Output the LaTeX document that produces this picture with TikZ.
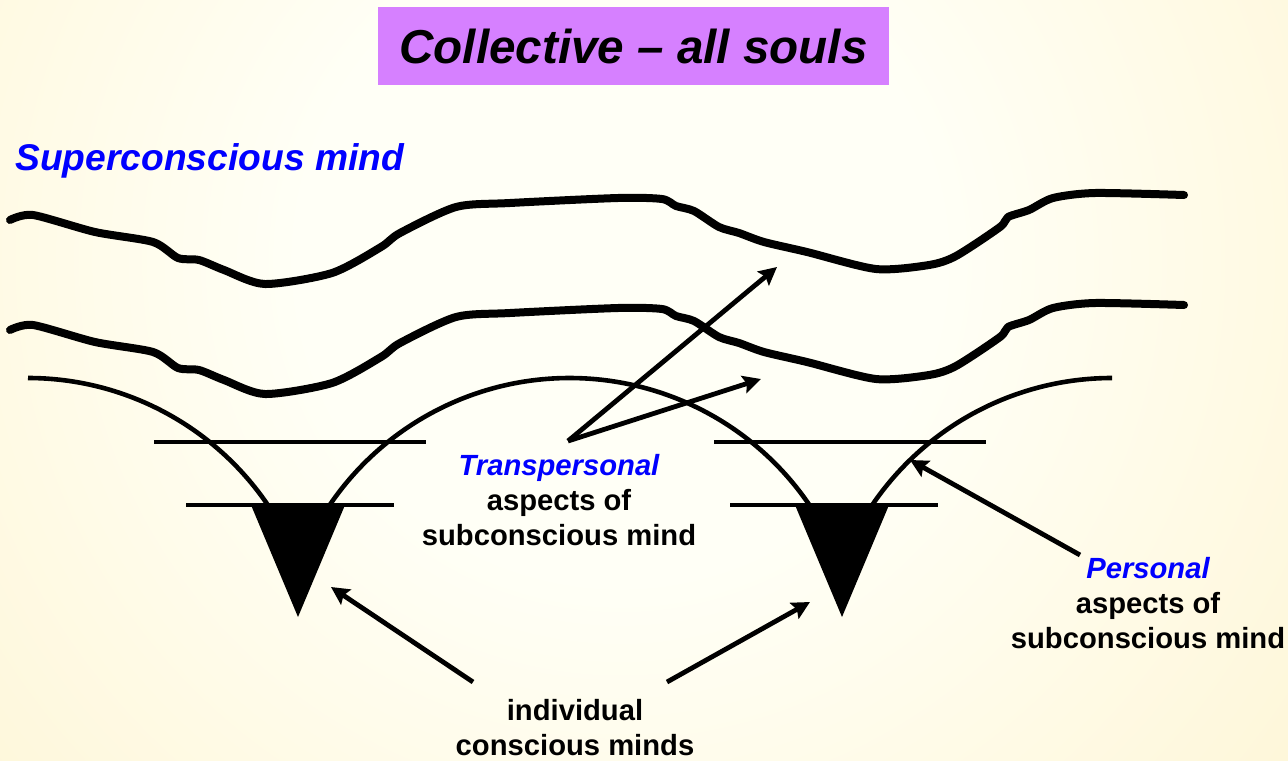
\documentclass[tikz,border=0pt]{standalone}
\usepackage{fontspec}
\setmainfont{Liberation Sans}
\usepackage{xcolor}
\usepackage{tikz}
\usetikzlibrary{arrows.meta}

\definecolor{soulviolet}{RGB}{214,128,255}
\definecolor{mindblue}{RGB}{0,0,255}
\definecolor{bgpale}{RGB}{255,255,246}
\definecolor{bgmid}{RGB}{254,243,204}
\definecolor{bgdeep}{RGB}{251,225,138}
\pgfdeclareradialshading{glow}{\pgfpoint{0bp}{0bp}}{color(0bp)=(bgpale); color(8bp)=(bgpale); color(27bp)=(bgmid); color(44bp)=(bgdeep); color(50bp)=(bgdeep)}

\tikzset{
    wave/.style={line width=4pt,line join=round,line cap=round},
    rim/.style={line width=2.3pt},
    shelf/.style={line width=2.3pt},
    pointer/.style={line width=2.4pt,-{Stealth[length=9pt,width=9pt,inset=1.5pt]}},
    mindtext/.style={font=\bfseries\fontsize{14.6}{17.5}\selectfont,align=center,inner sep=0pt}
}

\begin{document}
\begin{tikzpicture}[x=0.5pt,y=-0.5pt]
        \useasboundingbox (0,0) rectangle (1288,760);
        \begin{scope}
            \clip (0,0) rectangle (1288,760);
            \shade[shading=glow] (-380,-740) rectangle (1620,1260);
        \end{scope}

        % title and top label
        \node[fill=soulviolet,minimum width=255.5pt,minimum height=39pt,
              font=\bfseries\itshape\fontsize{23.8}{28}\selectfont] (title) at (633.5,46) {Collective – all souls};
        \node[anchor=base west,text=mindblue,inner sep=0pt,
              font=\bfseries\itshape\fontsize{18.6}{22}\selectfont] (supermind) at (15,170) {Superconscious mind};

        % the two wavy layers
        \foreach \dy in {0,110}
            \draw[wave,shift={(0,\dy)}] plot[smooth,tension=0.45] coordinates {
                (10,220) (33,215) (95,232) (153,242) (178,258) (199,260) (224,270) (265,284)
                (332,273) (381,247) (400,233) (456,207) (510,203) (618,198) (662,199) (676,206)
                (694,211) (719,227) (739,233) (764,242) (807,252) (876,269) (929,265)
                (956,256) (1000,227) (1008,217) (1029,210) (1053,198) (1095,193) (1184,195)};

        % arches into the two funnels
        \draw[rim] (28,378) arc (-90:-34.2:290);
        \draw[rim] (329.7,505) arc (-145.8:-34.2:290);
        \draw[rim] (872.2,505) arc (-145.8:-90:290);

        \draw[shelf] (154,442) -- (426,442);
        \draw[shelf] (186,505) -- (394,505);
        \draw[shelf] (714,442) -- (986,442);
        \draw[shelf] (730,505) -- (938,505);

        \foreach \cx in {298,842}
            \fill (\cx-47,505) -- (\cx+47,505) -- (\cx,617) -- cycle;

        % labels
        \node[mindtext] (transpersonal) at (559,500) {{\color{mindblue}\itshape Transpersonal}\\aspects of\\subconscious mind};
        \node[mindtext] (personal) at (1148,603) {{\color{mindblue}\itshape Personal}\\aspects of\\subconscious mind};
        \node[mindtext] (individual) at (575,728) {individual\\conscious minds};

        % arrows
        \coordinate (transfork) at (568,441);
        \coordinate (uppertip) at (777,267);
        \coordinate (lowertip) at (761,379);
        \coordinate (personaltail) at (1080,555);
        \coordinate (personaltip) at (910,460);
        \coordinate (lefttail) at (473,682);
        \coordinate (lefttip) at (331,587);
        \coordinate (righttail) at (667,682);
        \coordinate (righttip) at (810,602);

        \draw[pointer] (transfork) -- (uppertip);
        \draw[pointer] (transfork) -- (lowertip);
        \draw[pointer] (personaltail) -- (personaltip);
        \draw[pointer] (lefttail) -- (lefttip);
        \draw[pointer] (righttail) -- (righttip);
    \end{tikzpicture}
\end{document}
